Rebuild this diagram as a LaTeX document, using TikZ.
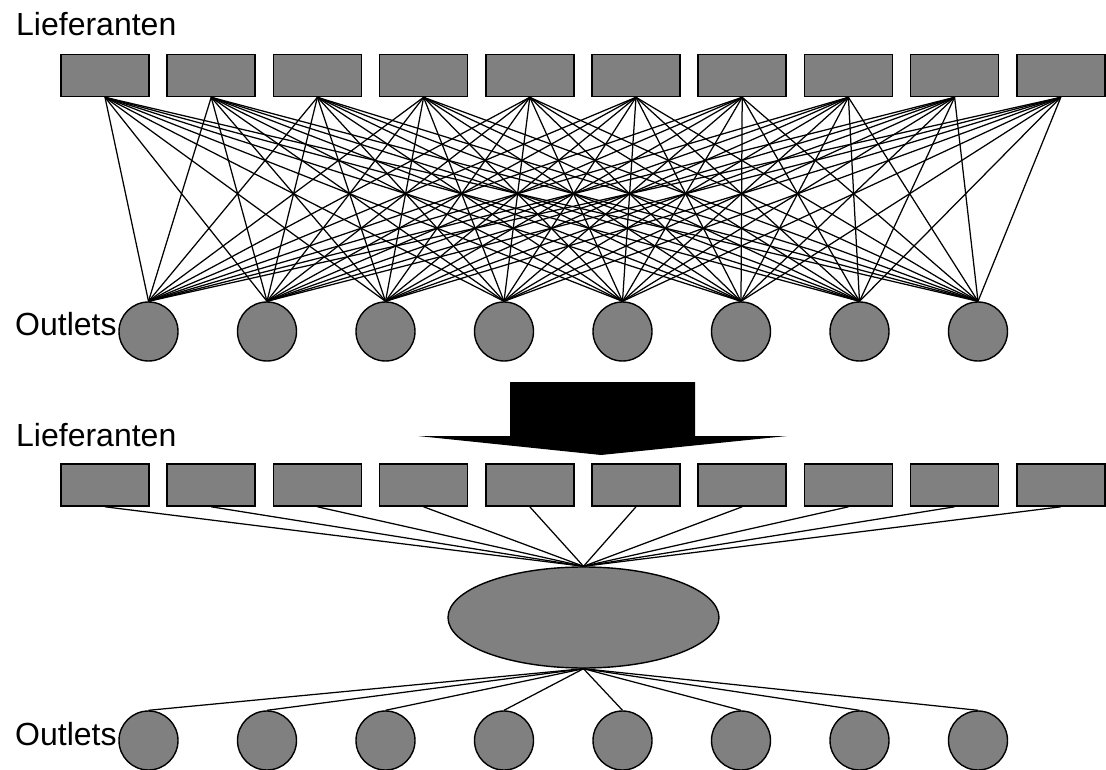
\documentclass[tikz,border=0pt]{standalone}
\usepackage{fontspec}
\setmainfont{Liberation Sans}
\usetikzlibrary{shapes.geometric}
\tikzset{
  box/.style={draw, line width=1.6pt, fill=gray, minimum width=88pt, minimum height=42pt, inner sep=0pt},
  outlet/.style={draw, circle, line width=1.4pt, fill=gray, minimum size=59pt, inner sep=0pt},
  hub/.style={draw, ellipse, line width=1.4pt, fill=gray, minimum width=271pt, minimum height=101pt, inner sep=0pt},
  label/.style={anchor=base west, inner sep=0pt, font=\fontsize{32}{38}\selectfont},
  link/.style={line width=1.25pt}
}
\begin{document}
\begin{tikzpicture}[x=1pt,y=-1pt]
\useasboundingbox (0,0) rectangle (1106,770);
\clip (0,0) rectangle (1106,770);

% top: every supplier to every outlet
\node[label] (lief1) at (16,36) {Lieferanten};
\foreach \i in {1,...,10}
  \node[box] (l\i) at ({105+106.2*(\i-1)},75.5) {};
\node[label] (out1) at (15,335) {Outlets};
\foreach \j in {1,...,8}
  \node[outlet] (o\j) at ({148.5+118.5*(\j-1)},331.5) {};
\foreach \i in {1,...,10}
  \foreach \j in {1,...,8}
    \path[draw,link] (l\i.south) -- (o\j.north);

% big arrow
\fill (510,382) -- (695,382) -- (695,436) -- (787,436) -- (601,455) -- (418,436) -- (510,436) -- cycle;

% bottom: all via one hub
\node[label] (lief2) at (16,446) {Lieferanten};
\foreach \i in {1,...,10}
  \node[box] (m\i) at ({105+106.2*(\i-1)},485) {};
\node[hub] (z) at (583.5,617.5) {};
\node[label] (out2) at (15,745) {Outlets};
\foreach \j in {1,...,8}
  \node[outlet] (p\j) at ({148.5+118.5*(\j-1)},740.5) {};
\foreach \i in {1,...,10}
  \path[draw,link] (m\i.south) -- (z.north);
\foreach \j in {1,...,8}
  \path[draw,link] (z.south) -- (p\j.north);
\end{tikzpicture}
\end{document}
